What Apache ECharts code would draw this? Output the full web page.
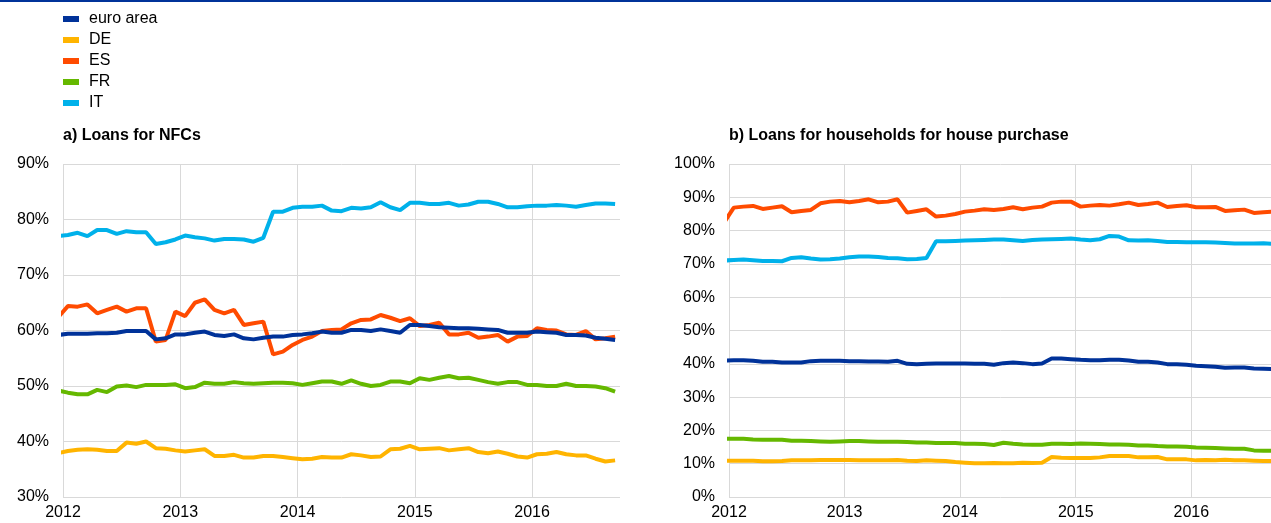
<!DOCTYPE html>
<html>
<head>
<meta charset="utf-8">
<script src="https://cdn.jsdelivr.net/npm/echarts@6/dist/echarts.min.js"></script>
<style>
  html, body { margin: 0; padding: 0; background: #fff; }
  #chart { width: 1271px; height: 523px; }
</style>
</head>
<body>
<div id="chart"></div>
<script>
// monthly observations, Dec 2011 .. Sep 2016 (Dec 2011 only feeds the line into the axis)
const firstYear = 2011, firstMonth = 12, nMonths = 58;
const seriesNames = ["euro area", "DE", "ES", "FR", "IT"];
const seriesColors = ["#003299", "#FFB400", "#FF4B00", "#65B800", "#00B1EA"];
const yearTicks = [2012, 2013, 2014, 2015, 2016];

// a) Loans for NFCs (%)
const nfcEA = [59.2, 59.4, 59.4, 59.4, 59.5, 59.5, 59.6, 59.9, 59.9, 59.9, 58.4, 58.6, 59.3, 59.3, 59.6, 59.8, 59.2, 59.0, 59.3, 58.6, 58.4, 58.7, 58.9, 58.9, 59.2, 59.3, 59.5, 59.8, 59.6, 59.6, 60.1, 60.1, 59.9, 60.2, 59.9, 59.6, 61.0, 61.0, 60.8, 60.6, 60.5, 60.4, 60.4, 60.3, 60.2, 60.1, 59.6, 59.6, 59.6, 59.8, 59.7, 59.6, 59.2, 59.2, 59.1, 58.7, 58.5, 58.3];
const nfcDE = [37.9, 38.3, 38.5, 38.6, 38.5, 38.3, 38.3, 39.8, 39.6, 40.0, 38.8, 38.7, 38.4, 38.2, 38.4, 38.6, 37.4, 37.4, 37.6, 37.1, 37.1, 37.4, 37.4, 37.2, 37.0, 36.8, 36.9, 37.2, 37.1, 37.1, 37.7, 37.5, 37.2, 37.3, 38.6, 38.7, 39.2, 38.6, 38.7, 38.8, 38.4, 38.6, 38.8, 38.1, 37.9, 38.2, 37.8, 37.3, 37.1, 37.7, 37.8, 38.1, 37.7, 37.5, 37.5, 36.9, 36.4, 36.6];
const nfcES = [62.4, 64.4, 64.3, 64.7, 63.1, 63.7, 64.3, 63.4, 64.0, 64.0, 58.0, 58.3, 63.4, 62.6, 65.0, 65.6, 63.7, 63.1, 63.7, 61.0, 61.3, 61.6, 55.7, 56.2, 57.4, 58.3, 58.9, 59.9, 60.1, 60.2, 61.3, 61.9, 62.0, 62.8, 62.3, 61.7, 62.2, 60.8, 61.0, 61.4, 59.3, 59.3, 59.6, 58.7, 58.9, 59.2, 58.0, 58.9, 59.0, 60.4, 60.1, 60.0, 59.3, 59.2, 59.9, 58.4, 58.6, 58.9];
const nfcFR = [49.2, 48.8, 48.5, 48.5, 49.3, 48.9, 49.9, 50.1, 49.8, 50.2, 50.2, 50.2, 50.3, 49.6, 49.8, 50.6, 50.4, 50.4, 50.7, 50.5, 50.4, 50.5, 50.6, 50.6, 50.5, 50.2, 50.5, 50.8, 50.8, 50.4, 51.0, 50.4, 50.0, 50.2, 50.8, 50.8, 50.5, 51.4, 51.1, 51.5, 51.8, 51.4, 51.5, 51.1, 50.7, 50.4, 50.7, 50.7, 50.2, 50.2, 50.0, 50.0, 50.4, 50.0, 50.0, 49.9, 49.6, 49.0];
const nfcIT = [77.0, 77.2, 77.6, 77.0, 78.1, 78.1, 77.4, 77.9, 77.7, 77.7, 75.6, 75.9, 76.4, 77.1, 76.8, 76.6, 76.2, 76.5, 76.5, 76.4, 76.0, 76.7, 81.4, 81.4, 82.1, 82.3, 82.3, 82.5, 81.6, 81.5, 82.1, 82.0, 82.2, 83.1, 82.2, 81.7, 83.0, 83.0, 82.8, 82.8, 83.0, 82.5, 82.7, 83.2, 83.2, 82.8, 82.2, 82.2, 82.4, 82.5, 82.5, 82.6, 82.5, 82.3, 82.6, 82.9, 82.9, 82.8];

// b) Loans for households for house purchase (%)
const hhEA = [40.9, 41.1, 41.1, 40.9, 40.6, 40.6, 40.4, 40.4, 40.4, 40.8, 40.9, 40.9, 40.9, 40.8, 40.8, 40.7, 40.7, 40.6, 40.9, 40.0, 39.9, 40.0, 40.1, 40.1, 40.1, 40.1, 40.0, 40.0, 39.7, 40.2, 40.4, 40.2, 39.9, 40.1, 41.6, 41.6, 41.4, 41.2, 41.1, 41.1, 41.2, 41.2, 41.0, 40.6, 40.6, 40.4, 39.9, 39.9, 39.7, 39.4, 39.3, 39.1, 38.8, 38.9, 38.9, 38.6, 38.5, 38.4];
const hhDE = [10.9, 10.9, 10.9, 10.9, 10.7, 10.7, 10.8, 11.0, 11.0, 11.0, 11.1, 11.1, 11.1, 11.1, 11.0, 11.0, 11.0, 11.0, 11.1, 10.9, 10.8, 11.0, 10.9, 10.8, 10.5, 10.3, 10.1, 10.1, 10.2, 10.1, 10.1, 10.3, 10.2, 10.3, 12.0, 11.8, 11.7, 11.7, 11.7, 11.9, 12.3, 12.3, 12.3, 11.9, 11.9, 12.0, 11.3, 11.3, 11.3, 11.0, 11.1, 11.0, 11.2, 11.0, 11.0, 10.9, 10.8, 10.8];
const hhES = [82.5, 86.9, 87.2, 87.4, 86.5, 86.9, 87.3, 85.5, 85.9, 86.2, 88.2, 88.7, 88.9, 88.5, 88.9, 89.4, 88.5, 88.7, 89.4, 85.4, 85.9, 86.4, 84.2, 84.5, 85.0, 85.7, 86.0, 86.4, 86.2, 86.5, 87.0, 86.4, 86.9, 87.2, 88.4, 88.7, 88.7, 87.2, 87.5, 87.7, 87.5, 87.9, 88.4, 87.7, 88.0, 88.4, 87.1, 87.4, 87.6, 87.0, 87.0, 87.1, 85.9, 86.1, 86.3, 85.3, 85.5, 85.7];
const hhFR = [17.5, 17.5, 17.5, 17.3, 17.2, 17.2, 17.2, 16.9, 16.9, 16.8, 16.7, 16.6, 16.7, 16.8, 16.8, 16.7, 16.6, 16.6, 16.6, 16.5, 16.4, 16.4, 16.2, 16.2, 16.2, 16.0, 16.0, 15.9, 15.6, 16.3, 16.0, 15.8, 15.7, 15.7, 16.0, 16.0, 15.9, 16.1, 16.0, 15.9, 15.8, 15.8, 15.7, 15.5, 15.5, 15.3, 15.2, 15.2, 15.1, 14.9, 14.8, 14.7, 14.6, 14.5, 14.5, 14.0, 13.9, 13.9];
const hhIT = [71.0, 71.2, 71.3, 71.1, 70.9, 70.9, 70.8, 71.8, 72.0, 71.6, 71.3, 71.4, 71.6, 72.0, 72.2, 72.2, 72.1, 71.8, 71.7, 71.4, 71.5, 71.8, 76.8, 76.8, 76.9, 77.0, 77.1, 77.2, 77.3, 77.3, 77.1, 76.9, 77.2, 77.3, 77.4, 77.5, 77.6, 77.3, 77.1, 77.4, 78.4, 78.2, 77.1, 77.0, 77.1, 76.9, 76.6, 76.6, 76.5, 76.5, 76.5, 76.4, 76.3, 76.1, 76.1, 76.1, 76.2, 76.0];

const nfcData = [nfcEA, nfcDE, nfcES, nfcFR, nfcIT];
const hhData = [hhEA, hhDE, hhES, hhFR, hhIT];

// month positions on a decimal-year axis, plotted mid-month
const monthX = [];
for (let i = 0; i < nMonths; i++) {
  const k = firstMonth - 1 + i;
  const y = firstYear + Math.floor(k / 12);
  const m = k % 12;
  monthX.push(y + (m + 0.5) / 12);
}

const chart = echarts.init(document.getElementById("chart"));

const labelStyle = {
  color: "#000",
  fontFamily: "Liberation Sans, Arial, sans-serif",
  fontSize: 16,
};
const gridLine = { lineStyle: { color: "#d9d9d9", width: 1 } };

function xAxisFor(idx) {
  return {
    type: "value",
    gridIndex: idx,
    min: yearTicks[0],
    max: 2016.75,
    interval: 1,
    axisLine: { show: false },
    axisTick: { show: false },
    axisLabel: Object.assign({}, labelStyle, {
      margin: 8,
      showMaxLabel: false,
      formatter: (v) => (Number.isInteger(v) ? String(v) : ""),
    }),
    splitLine: Object.assign({ show: true, showMaxLine: false }, gridLine),
  };
}

function yAxisFor(idx, min, max) {
  return {
    type: "value",
    gridIndex: idx,
    min: min,
    max: max,
    interval: 10,
    axisLine: { show: false },
    axisTick: { show: false },
    axisLabel: Object.assign({}, labelStyle, { margin: 14, formatter: "{value}%" }),
    splitLine: Object.assign({ show: true }, gridLine),
  };
}

function buildSeries(dataList, idx) {
  return dataList.map((vals, i) => ({
    name: seriesNames[i],
    type: "line",
    xAxisIndex: idx,
    yAxisIndex: idx,
    showSymbol: false,
    symbol: "none",
    clip: true,
    z: i === 0 ? 3 : 2,
    lineStyle: { color: seriesColors[i], width: 4 },
    itemStyle: { color: seriesColors[i] },
    data: vals.map((v, j) => [monthX[j], v]),
  }));
}

const titleStyle = { color: "#000", fontSize: 16, fontWeight: "bold", fontFamily: "Liberation Sans, Arial, sans-serif" };

const option = {
  animation: false,
  textStyle: { fontFamily: "Liberation Sans, Arial, sans-serif" },
  graphic: [
    { type: "rect", left: 0, top: 0, shape: { width: 1271, height: 2 }, style: { fill: "#003299" } },
  ],
  title: [
    { text: "a) Loans for NFCs", left: 63, top: 128, padding: 0, textStyle: titleStyle },
    { text: "b) Loans for households for house purchase", left: 729, top: 128, padding: 0, textStyle: titleStyle },
  ],
  legend: {
    orient: "vertical",
    left: 63,
    top: 11,
    padding: 0,
    itemGap: 5,
    itemWidth: 16,
    itemHeight: 6,
    icon: "rect",
    data: seriesNames,
    selectedMode: false,
    textStyle: Object.assign({}, labelStyle, { lineHeight: 16, padding: [0, 0, 0, 5] }),
  },
  grid: [
    { left: 63, top: 164, width: 557, height: 333, outerBoundsMode: "none" },
    { left: 729, top: 164, width: 549, height: 333, outerBoundsMode: "none" },
  ],
  xAxis: [xAxisFor(0), xAxisFor(1)],
  yAxis: [yAxisFor(0, 30, 90), yAxisFor(1, 0, 100)],
  series: buildSeries(nfcData, 0).concat(buildSeries(hhData, 1)),
};

chart.setOption(option);
</script>
</body>
</html>
